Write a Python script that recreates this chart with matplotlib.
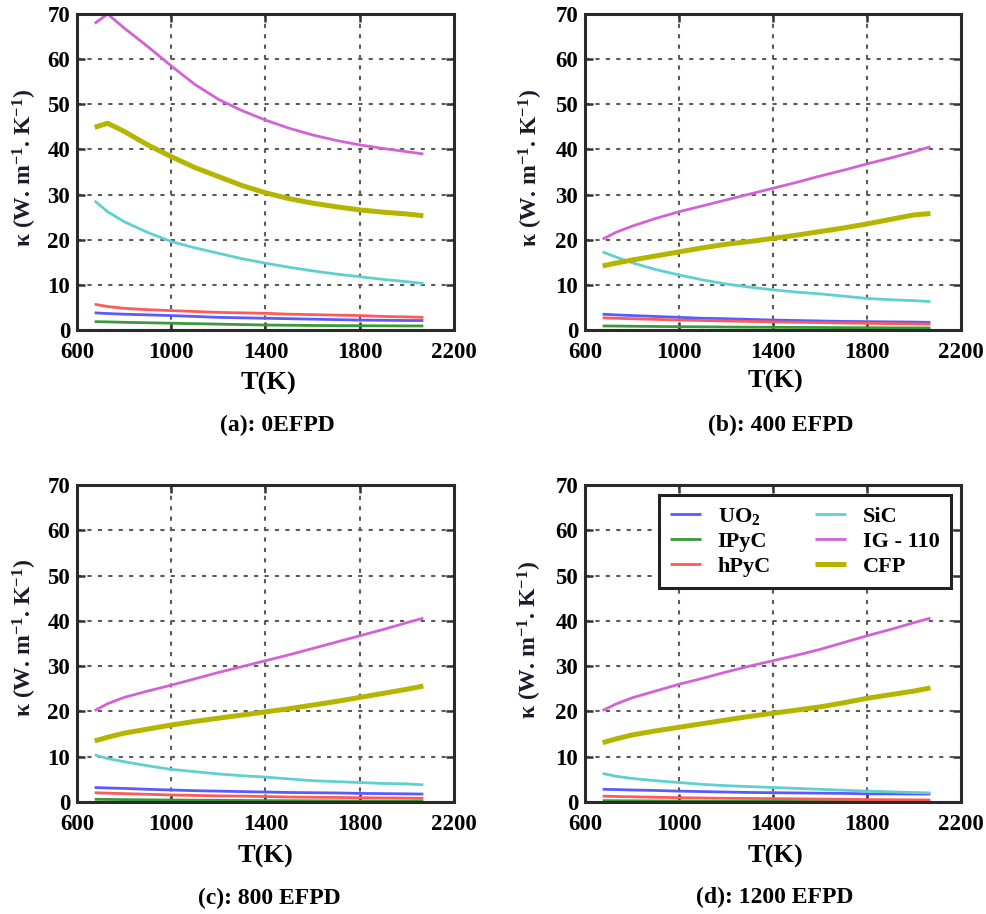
import matplotlib
matplotlib.use("Agg")
import matplotlib.pyplot as plt

plt.rcParams['font.family'] = ['Liberation Serif', 'DejaVu Serif']
plt.rcParams['font.weight'] = 'bold'
plt.rcParams['mathtext.default'] = 'regular'

T = [675, 730, 800, 900, 1000, 1100, 1200, 1300, 1400, 1500, 1600, 1700, 1800, 1900, 2000, 2070]

series_names = ["UO$_2$", "IPyC", "hPyC", "SiC", "IG - 110", "CFP"]
series_colors = ["#5a5aff", "#3a9a3a", "#ff5a5a", "#5fd0d0", "#d462d4", "#b5b500"]
series_widths = [2.0, 2.0, 2.0, 2.0, 2.0, 3.6]

# (a) 0 EFPD
a_UO2 = [3.8, 3.65, 3.5, 3.35, 3.2, 3.0, 2.8, 2.7, 2.6, 2.5, 2.4, 2.3, 2.2, 2.15, 2.1, 2.1]
a_IPyC = [1.85, 1.8, 1.7, 1.6, 1.5, 1.4, 1.3, 1.2, 1.1, 1.05, 1.0, 0.97, 0.95, 0.92, 0.9, 0.9]
a_hPyC = [5.7, 5.2, 4.8, 4.5, 4.3, 4.1, 3.9, 3.8, 3.7, 3.5, 3.4, 3.3, 3.2, 3.0, 2.9, 2.8]
a_SiC = [28.6, 26.2, 24.0, 21.6, 19.6, 18.2, 17.0, 15.8, 14.8, 13.9, 13.1, 12.4, 11.8, 11.2, 10.7, 10.3]
a_IG = [67.9, 70.0, 66.9, 62.8, 58.5, 54.4, 51.1, 48.6, 46.5, 44.7, 43.2, 42.0, 41.0, 40.2, 39.5, 39.0]
a_CFP = [44.9, 45.8, 44.0, 41.0, 38.4, 36.0, 34.0, 32.0, 30.4, 29.1, 28.1, 27.3, 26.6, 26.1, 25.7, 25.3]

# (b) 400 EFPD
b_UO2 = [3.5, 3.35, 3.2, 3.0, 2.8, 2.6, 2.5, 2.35, 2.2, 2.1, 2.0, 1.9, 1.85, 1.8, 1.75, 1.7]
b_IPyC = [0.9, 0.87, 0.83, 0.78, 0.74, 0.7, 0.66, 0.62, 0.6, 0.57, 0.55, 0.52, 0.5, 0.48, 0.46, 0.45]
b_hPyC = [2.7, 2.6, 2.5, 2.35, 2.2, 2.1, 2.0, 1.9, 1.8, 1.7, 1.65, 1.55, 1.5, 1.4, 1.35, 1.3]
b_SiC = [17.3, 16.2, 14.9, 13.4, 12.2, 11.1, 10.2, 9.5, 8.9, 8.4, 8.0, 7.5, 7.0, 6.7, 6.5, 6.3]
b_IG = [20.1, 21.6, 23.0, 24.7, 26.2, 27.5, 28.8, 30.1, 31.4, 32.7, 34.1, 35.4, 36.8, 38.1, 39.5, 40.6]
b_CFP = [14.2, 14.8, 15.5, 16.4, 17.3, 18.2, 19.0, 19.6, 20.3, 21.0, 21.8, 22.6, 23.5, 24.5, 25.5, 25.8]

# (c) 800 EFPD
c_UO2 = [3.2, 3.1, 3.0, 2.8, 2.65, 2.5, 2.4, 2.3, 2.2, 2.1, 2.05, 2.0, 1.9, 1.85, 1.8, 1.75]
c_IPyC = [0.6, 0.57, 0.53, 0.48, 0.44, 0.4, 0.36, 0.33, 0.3, 0.28, 0.26, 0.24, 0.22, 0.21, 0.2, 0.2]
c_hPyC = [2.05, 1.95, 1.85, 1.7, 1.55, 1.45, 1.35, 1.3, 1.2, 1.1, 1.05, 1.0, 0.95, 0.9, 0.85, 0.8]
c_SiC = [10.4, 9.6, 8.9, 8.0, 7.2, 6.7, 6.2, 5.8, 5.5, 5.1, 4.7, 4.5, 4.3, 4.1, 4.0, 3.8]
c_IG = [20.2, 21.7, 23.1, 24.5, 25.8, 27.2, 28.6, 29.9, 31.2, 32.5, 33.9, 35.3, 36.7, 38.1, 39.6, 40.6]
c_CFP = [13.5, 14.3, 15.2, 16.1, 17.0, 17.8, 18.5, 19.2, 19.9, 20.6, 21.4, 22.2, 23.1, 24.0, 24.9, 25.6]

# (d) 1200 EFPD
d_UO2 = [2.8, 2.75, 2.65, 2.55, 2.4, 2.3, 2.2, 2.1, 2.05, 2.0, 1.95, 1.9, 1.8, 1.78, 1.75, 1.75]
d_IPyC = [0.3, 0.28, 0.26, 0.23, 0.2, 0.18, 0.16, 0.15, 0.14, 0.13, 0.12, 0.11, 0.1, 0.1, 0.1, 0.1]
d_hPyC = [1.3, 1.22, 1.15, 1.05, 0.95, 0.88, 0.82, 0.78, 0.75, 0.7, 0.65, 0.6, 0.55, 0.5, 0.47, 0.45]
d_SiC = [6.3, 5.7, 5.2, 4.7, 4.3, 3.9, 3.6, 3.4, 3.2, 3.0, 2.8, 2.6, 2.4, 2.25, 2.1, 2.0]
d_IG = [20.2, 21.6, 23.0, 24.5, 26.0, 27.3, 28.7, 30.0, 31.2, 32.4, 33.7, 35.2, 36.7, 38.1, 39.6, 40.6]
d_CFP = [13.1, 13.9, 14.8, 15.7, 16.5, 17.3, 18.1, 18.9, 19.6, 20.3, 21.0, 21.9, 22.9, 23.7, 24.5, 25.2]

panel_titles = ["(a): 0EFPD", "(b): 400 EFPD", "(c): 800 EFPD", "(d): 1200 EFPD"]
panel_data = [
    [a_UO2, a_IPyC, a_hPyC, a_SiC, a_IG, a_CFP],
    [b_UO2, b_IPyC, b_hPyC, b_SiC, b_IG, b_CFP],
    [c_UO2, c_IPyC, c_hPyC, c_SiC, c_IG, c_CFP],
    [d_UO2, d_IPyC, d_hPyC, d_SiC, d_IG, d_CFP],
]
x_ticks = [600, 1000, 1400, 1800, 2200]
y_ticks = [0, 10, 20, 30, 40, 50, 60, 70]

W, H = 987, 914
fig = plt.figure(figsize=(W / 100, H / 100), dpi=100)

# axes pixel boxes: left, top, right, bottom
boxes = [(77, 14, 454, 330), (585, 14, 961, 330), (77, 485, 454, 802), (585, 485, 961, 802)]
title_pos = [(277, 425), (781, 425), (269, 898), (775, 897)]
xlabel_pos = [(268, 383), (775, 381), (265, 856), (775, 856)]
ylabel_pos = [(25, 168), (531, 168), (25, 638), (530, 640)]

ylab = r"κ (W. m$^{-1}$. K$^{-1}$)"
grid_color = "#5a5a5a"

for i, (l, t, r, b) in enumerate(boxes):
    ax = fig.add_axes([l / W, 1 - b / H, (r - l) / W, (b - t) / H])
    for vals, name, col, lw in zip(panel_data[i], series_names, series_colors, series_widths):
        ax.plot(T, vals, color=col, lw=lw, label=name, solid_capstyle='butt')
    ax.set_xlim(600, 2200)
    ax.set_ylim(0, 70)
    ax.set_xticks(x_ticks)
    ax.set_yticks(y_ticks)
    ax.grid(True, color=grid_color, linestyle=(0, (2.0, 3.0)), linewidth=1.5)
    ax.tick_params(direction='in', top=True, right=True, length=6, width=1.8,
                   labelsize=16.5, color='#333333')
    ax.tick_params(axis='x', pad=9)
    ax.tick_params(axis='y', pad=5)
    for lab in ax.get_xticklabels() + ax.get_yticklabels():
        lab.set_fontweight('bold')
    for sp in ax.spines.values():
        sp.set_linewidth(2.2)
        sp.set_color('#2a2a2a')
    fig.text(xlabel_pos[i][0] / W, 1 - xlabel_pos[i][1] / H, "T(K)", ha='center', va='center',
             fontsize=19, fontweight='bold')
    fig.text(ylabel_pos[i][0] / W, 1 - ylabel_pos[i][1] / H, ylab, ha='center', va='center',
             rotation=90, fontsize=17, fontweight='bold', color='#1e1a2a')
    fig.text(title_pos[i][0] / W, 1 - title_pos[i][1] / H, panel_titles[i], ha='center', va='center',
             fontsize=17, fontweight='bold')
    if i == 3:
        leg = ax.legend(ncol=2, loc='upper right', bbox_to_anchor=(0.973, 0.968), borderaxespad=0,
                        prop={'weight': 'bold', 'size': 16}, frameon=True, fancybox=False,
                        handlelength=1.4, columnspacing=2.0, labelspacing=0.2,
                        borderpad=0.5, handletextpad=0.75)
        leg.get_frame().set_edgecolor('#222222')
        leg.get_frame().set_linewidth(2.2)
        leg.get_frame().set_alpha(1)

fig.savefig("out.png", dpi=100)
